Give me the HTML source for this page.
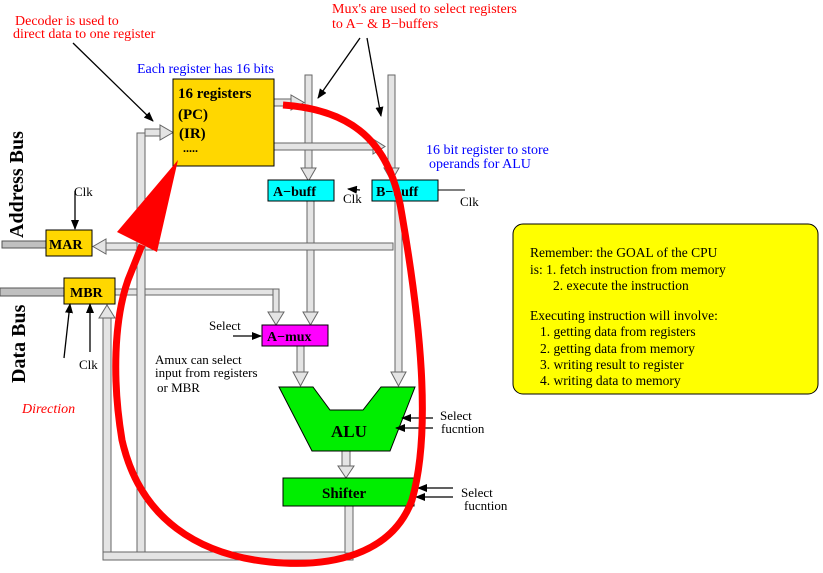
<!DOCTYPE html>
<html><head><style>
body{margin:0;background:#fff;width:823px;height:568px;overflow:hidden}
svg text{font-family:"Liberation Serif",serif}
</style></head><body>
<svg width="823" height="568" viewBox="0 0 823 568">
<defs>
<marker id="ah" markerWidth="10" markerHeight="8" refX="9" refY="4" orient="auto" markerUnits="userSpaceOnUse"><path d="M0,0 L10,4 L0,8z" fill="#000"/></marker>
</defs>
<g fill="#e4e4e4" stroke="#666" stroke-width="1">
<rect x="305" y="75" width="7" height="93"/>
<path d="M301,168 L316,168 L308.5,181z"/>
<rect x="388" y="75" width="7" height="93"/>
<path d="M384,168 L399,168 L391.5,181z"/>
<rect x="274" y="99" width="18" height="7"/>
<path d="M291,95 L291,110 L304,102.5z"/>
<rect x="274" y="143" width="100" height="7"/>
<path d="M373,139 L373,154 L385,146.5z"/>
<rect x="307" y="201" width="7" height="112"/>
<path d="M303,312 L318,312 L310.5,325z"/>
<rect x="395" y="201" width="7" height="172"/>
<path d="M391,372 L406,372 L398.5,386z"/>
<rect x="105" y="243" width="288" height="7"/>
<path d="M106,239 L106,254 L93,246.5z"/>
<rect x="115" y="289" width="164" height="6"/>
<rect x="273" y="289" width="6" height="24"/>
<path d="M268,312 L284,312 L276,325z"/>
<rect x="137" y="133" width="8" height="420"/>
<rect x="145" y="129" width="15" height="7"/>
<path d="M160,125 L160,140 L173,132.5z"/>
<rect x="103" y="317" width="8" height="236"/>
<path d="M99,318 L115,318 L107,305z"/>
<rect x="103" y="552" width="250" height="8"/>
<rect x="345" y="506" width="8" height="47"/>
<rect x="297" y="346" width="7" height="27"/>
<path d="M293,372 L308,372 L300.5,386z"/>
<rect x="342" y="451" width="8" height="16"/>
<path d="M338,466 L354,466 L346,478z"/>
</g>
<rect x="2" y="241" width="44" height="7" fill="#c0c0c0" stroke="#555"/>
<rect x="0" y="288" width="64" height="8" fill="#c0c0c0" stroke="#555"/>
<rect x="173" y="79" width="101" height="87" fill="#ffd700" stroke="#000"/>
<text x="178" y="98" font-size="15" font-weight="bold">16 registers</text>
<text x="178" y="119" font-size="15" font-weight="bold">(PC)</text>
<text x="179" y="138" font-size="15" font-weight="bold">(IR)</text>
<text x="183" y="152" font-size="12" font-weight="bold">.....</text>
<rect x="268" y="180" width="66" height="21" fill="#00ffff" stroke="#000"/>
<text x="273" y="196" font-size="14" font-weight="bold">A−buff</text>
<rect x="372" y="180" width="66" height="21" fill="#00ffff" stroke="#000"/>
<text x="376" y="196" font-size="14" font-weight="bold">B−buff</text>
<rect x="46" y="230" width="46" height="26" fill="#ffd700" stroke="#000"/>
<text x="49" y="249" font-size="14" font-weight="bold">MAR</text>
<rect x="64" y="278" width="51" height="26" fill="#ffd700" stroke="#000"/>
<text x="70" y="297" font-size="14" font-weight="bold">MBR</text>
<rect x="262" y="325" width="66" height="21" fill="#ff00ff" stroke="#000"/>
<text x="267" y="341" font-size="14" font-weight="bold">A−mux</text>
<path d="M279,387 L313,387 L330,410 L363,410 L381,387 L415,387 L390,451 L312,451z" fill="#00ee00" stroke="#000"/>
<text x="331" y="437" font-size="17" font-weight="bold">ALU</text>
<rect x="283" y="478" width="131" height="28" fill="#00ee00" stroke="#000"/>
<text x="322" y="498" font-size="15" font-weight="bold">Shifter</text>
<rect x="513" y="224" width="305" height="170" rx="10" fill="#ffff00" stroke="#000"/>
<g font-size="13.5">
<text x="530" y="257">Remember: the GOAL of the CPU</text>
<text x="530" y="274">is:  1. fetch instruction from memory</text>
<text x="553" y="290">2. execute the instruction</text>
<text x="530" y="320">Executing instruction will involve:</text>
<text x="540" y="336">1. getting data from registers</text>
<text x="540" y="353">2. getting data from memory</text>
<text x="540" y="369">3. writing result to register</text>
<text x="540" y="385">4. writing data to memory</text>
</g>
<g font-size="14" fill="#ff0000">
<text x="15" y="25">Decoder is used to</text>
<text x="13" y="38">direct data to one register</text>
<text x="332" y="13">Mux's are used to select registers</text>
<text x="332" y="28">to A− &amp; B−buffers</text>
</g>
<text x="22" y="413" font-size="14" fill="#ff0000" font-style="italic">Direction</text>
<g font-size="14" fill="#0000ff">
<text x="137" y="73">Each register has 16 bits</text>
<text x="426" y="154">16 bit register to store</text>
<text x="429" y="168">operands for ALU</text>
</g>
<text transform="translate(23,238) rotate(-90)" font-size="20" font-weight="bold">Address Bus</text>
<text transform="translate(25,383) rotate(-90)" font-size="20" font-weight="bold">Data Bus</text>
<g font-size="13">
<text x="74" y="196">Clk</text>
<text x="343" y="203">Clk</text>
<text x="460" y="206">Clk</text>
<text x="79" y="369">Clk</text>
<text x="209" y="330">Select</text>
<text x="155" y="364">Amux can select</text>
<text x="155" y="377">input from registers</text>
<text x="157" y="392">or MBR</text>
<text x="440" y="420">Select</text>
<text x="441" y="433">fucntion</text>
<text x="461" y="497">Select</text>
<text x="464" y="510">fucntion</text>
</g>
<g stroke="#000" stroke-width="1.3" fill="none" marker-end="url(#ah)">
<line x1="73" y1="43" x2="153" y2="121"/>
<line x1="360" y1="38" x2="318" y2="98"/>
<line x1="367" y1="38" x2="381" y2="116"/>
<line x1="75" y1="191" x2="75" y2="229"/>
<line x1="64" y1="358" x2="70" y2="304"/>
<line x1="90" y1="352" x2="90" y2="304"/>
<line x1="233" y1="336" x2="261" y2="336"/>
<line x1="360" y1="190" x2="348" y2="189"/>
<line x1="433" y1="418" x2="402" y2="418"/>
<line x1="433" y1="428" x2="396" y2="428"/>
<line x1="453" y1="488" x2="418" y2="488"/>
<line x1="453" y1="497" x2="416" y2="497"/>
</g>
<line x1="438" y1="190" x2="465" y2="190" stroke="#000"/>
<path d="M283,105 C360,110 392,150 402,215 C420,320 432,430 412,500 C392,555 330,568 270,562 C200,555 140,520 122,440 C112,380 114,320 128,280 L142,245" fill="none" stroke="#ff0000" stroke-width="7"/>
<path d="M178,160 L117,232 L157,252z" fill="#ff0000"/>
</svg>
</body></html>
